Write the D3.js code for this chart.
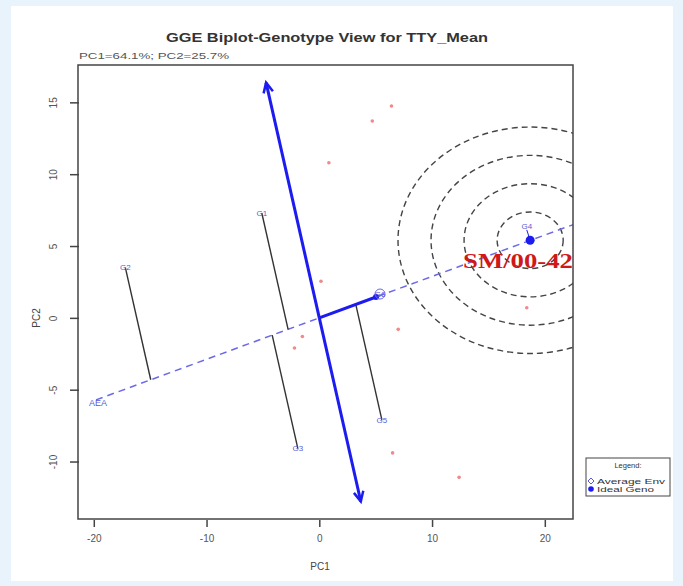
<html>
<head>
<meta charset="utf-8">
<script src="https://cdn.jsdelivr.net/npm/d3@7"></script>
<style>
  body { margin: 0; background: #e9f3fc; }
</style>
</head>
<body>
<div id="chart"></div>
<script>
// ---- data ----
const genoNames = ["G1", "G2", "G3", "G4", "G5", "G6"];
const genoPC1 = [-5.1, -17.2, -1.9, 18.4, 5.55, 5.4];
const genoPC2 = [7.3, 3.5, -9.1, 6.4, -7.1, 1.65];
const projected = ["G1", "G2", "G3", "G5"];          // genotypes with drop lines to AEA
const envPC1 = [6.4, 4.7, 0.85, 0.15, -1.5, -2.2, 7.0, 18.4, 6.5, 12.4];
const envPC2 = [14.75, 13.7, 10.8, 2.55, -1.3, -2.1, -0.8, 0.7, -9.4, -11.1];
const avgEnv = [5.03, 1.45];
const idealGeno = [18.7, 5.4];
const atcTop = [-4.72, 16.37];
const atcBottom = [3.68, -12.78];
const aeaFrom = -19.8, aeaTo = 24;                   // PC1 span of the AEA dashed line
const ringSteps = [1, 2, 3, 4];
const ringUnitPC1 = 2.93, ringUnitPC2 = 1.97;
const pc1Ticks = [-20, -10, 0, 10, 20];
const pc2Ticks = [-10, -5, 0, 5, 10, 15];
const pc1Domain = [-21.4, 22.5];
const pc2Domain = [-14.0, 17.6];

const W = 683, H = 586;
const SANS = "Arial, 'Liberation Sans', sans-serif";
const svg = d3.select("#chart").append("svg").attr("width", W).attr("height", H)
  .style("font-family", SANS);

svg.append("rect").attr("x", 11).attr("y", 6).attr("width", 662).attr("height", 575).attr("fill", "#fff");

const x = d3.scaleLinear().domain(pc1Domain).range([78, 573]);
const y = d3.scaleLinear().domain(pc2Domain).range([519, 65]);

svg.append("clipPath").attr("id", "plotclip")
  .append("rect").attr("x", 78).attr("y", 65).attr("width", 495).attr("height", 454);

// title + subtitle
svg.append("text").attr("x", 327).attr("y", 42).attr("text-anchor", "middle")
  .attr("font-size", 13).attr("font-weight", "bold").attr("fill", "#333")
  .attr("textLength", 322).attr("lengthAdjust", "spacingAndGlyphs")
  .text("GGE Biplot-Genotype View for TTY_Mean");
svg.append("text").attr("x", 79).attr("y", 59).attr("font-size", 9.5).attr("fill", "#555")
  .attr("textLength", 150).attr("lengthAdjust", "spacingAndGlyphs")
  .text("PC1=64.1%; PC2=25.7%");

// axes
const fmt = d => String(d);
const xAxis = svg.append("g").attr("transform", "translate(0,520)")
  .call(d3.axisBottom(x).tickValues(pc1Ticks).tickSize(7).tickPadding(8).tickFormat(fmt));
const yAxis = svg.append("g").attr("transform", "translate(79,0)")
  .call(d3.axisLeft(y).tickValues(pc2Ticks).tickSize(9).tickFormat(fmt));
[xAxis, yAxis].forEach(a => {
  a.attr("font-family", null);
  a.select(".domain").remove();
  a.selectAll("line").attr("stroke", "#444").attr("stroke-width", 1.5);
  a.selectAll("text").attr("fill", "#555").attr("font-size", 10);
});
yAxis.selectAll(".tick text")
  .attr("x", null).attr("y", 0)
  .attr("text-anchor", "middle")
  .attr("transform", "translate(-26,0) rotate(-90)").attr("dy", "0.35em");

svg.append("text").attr("x", 320).attr("y", 570).attr("text-anchor", "middle")
  .attr("font-size", 10).attr("fill", "#444").text("PC1");
svg.append("text").attr("transform", "translate(40,318) rotate(-90)").attr("text-anchor", "middle")
  .attr("font-size", 10).attr("fill", "#444").text("PC2");

const plot = svg.append("g").attr("clip-path", "url(#plotclip)");

// concentric rings around the ideal genotype
plot.selectAll("ellipse.ring").data(ringSteps).enter().append("ellipse")
  .attr("class", "ring")
  .attr("cx", x(idealGeno[0])).attr("cy", y(idealGeno[1]))
  .attr("rx", d => x(d * ringUnitPC1) - x(0))
  .attr("ry", d => y(0) - y(d * ringUnitPC2))
  .attr("fill", "none").attr("stroke", "#444").attr("stroke-width", 1.4)
  .attr("stroke-dasharray", "6,4");

// AEA dashed line
const slope = avgEnv[1] / avgEnv[0];
plot.append("line")
  .attr("x1", x(aeaFrom)).attr("y1", y(aeaFrom * slope))
  .attr("x2", x(aeaTo)).attr("y2", y(aeaTo * slope))
  .attr("stroke", "#6a6ae8").attr("stroke-width", 1.5).attr("stroke-dasharray", "7,5");

// drop lines from genotypes to AEA
const ux = avgEnv[0] / Math.hypot(avgEnv[0], avgEnv[1]);
const uy = avgEnv[1] / Math.hypot(avgEnv[0], avgEnv[1]);
const drops = projected.map(n => {
  const i = genoNames.indexOf(n);
  const t = genoPC1[i] * ux + genoPC2[i] * uy;
  return { gx: genoPC1[i], gy: genoPC2[i], fx: t * ux, fy: t * uy };
});
plot.selectAll("line.drop").data(drops).enter().append("line")
  .attr("class", "drop")
  .attr("x1", d => x(d.gx)).attr("y1", d => y(d.gy))
  .attr("x2", d => x(d.fx)).attr("y2", d => y(d.fy))
  .attr("stroke", "#333").attr("stroke-width", 1.4);

// ATC axis with arrows
function arrow(from, to) {
  const x1 = x(from[0]), y1 = y(from[1]), x2 = x(to[0]), y2 = y(to[1]);
  const a = Math.atan2(y2 - y1, x2 - x1), L = 11, s = 0.45;
  plot.append("line").attr("x1", x1).attr("y1", y1).attr("x2", x2).attr("y2", y2)
    .attr("stroke", "#1c1cf0").attr("stroke-width", 3);
  plot.append("path")
    .attr("d", `M${x2 - L * Math.cos(a - s)},${y2 - L * Math.sin(a - s)}L${x2},${y2}L${x2 - L * Math.cos(a + s)},${y2 - L * Math.sin(a + s)}`)
    .attr("fill", "none").attr("stroke", "#1c1cf0").attr("stroke-width", 2.5);
}
arrow([0, 0], atcTop);
arrow([0, 0], atcBottom);

// line from origin to average environment
plot.append("line").attr("x1", x(0)).attr("y1", y(0)).attr("x2", x(avgEnv[0])).attr("y2", y(avgEnv[1]))
  .attr("stroke", "#1c1cf0").attr("stroke-width", 3);
plot.append("circle").attr("cx", x(avgEnv[0])).attr("cy", y(avgEnv[1])).attr("r", 3).attr("fill", "#1c1cf0");
plot.append("circle").attr("cx", x(avgEnv[0]) + 4).attr("cy", y(avgEnv[1]) - 3).attr("r", 5)
  .attr("fill", "none").attr("stroke", "#6a6ae8").attr("stroke-width", 1);

// environments (red small markers)
const envs = envPC1.map((v, i) => [v, envPC2[i]]);
plot.selectAll("circle.env").data(envs).enter().append("circle")
  .attr("class", "env").attr("cx", d => x(d[0])).attr("cy", d => y(d[1])).attr("r", 1.8)
  .attr("fill", "#f08a8a");

// genotype labels
plot.selectAll("text.geno").data(genoNames).enter().append("text")
  .attr("class", "geno")
  .attr("x", (d, i) => x(genoPC1[i])).attr("y", (d, i) => y(genoPC2[i]))
  .attr("dy", "0.35em").attr("text-anchor", "middle")
  .attr("font-size", 8).attr("fill", "#5a5ad8").text(d => d);

// ideal genotype
plot.append("circle").attr("cx", x(idealGeno[0])).attr("cy", y(idealGeno[1])).attr("r", 4.5).attr("fill", "#1c1cf0");
plot.append("line").attr("x1", x(idealGeno[0])).attr("y1", y(idealGeno[1]))
  .attr("x2", x(genoPC1[3])).attr("y2", y(genoPC2[3]) + 4).attr("stroke", "#1c1cf0").attr("stroke-width", 1);

// AEA label
svg.append("text").attr("x", x(aeaFrom) + 2).attr("y", y(aeaFrom * slope) + 3).attr("dy", "0.35em")
  .attr("text-anchor", "middle").attr("font-size", 9).attr("fill", "#5a5ad8").text("AEA");

// plot frame
svg.append("rect").attr("x", 78).attr("y", 65).attr("width", 495).attr("height", 454)
  .attr("fill", "none").attr("stroke", "#444").attr("stroke-width", 1.5);

// big red genotype name
svg.append("text").attr("x", 463).attr("y", 268)
  .style("font-family", "'Liberation Serif', 'Times New Roman', serif").attr("font-weight", "bold")
  .attr("font-size", 22).attr("fill", "#d01818")
  .attr("textLength", 110).attr("lengthAdjust", "spacingAndGlyphs")
  .text("SM/00-42");

// legend
const lg = svg.append("g").attr("transform", "translate(586,458)");
lg.append("rect").attr("width", 84).attr("height", 38).attr("fill", "#fff").attr("stroke", "#444").attr("stroke-width", 1);
lg.append("text").attr("x", 42).attr("y", 10).attr("text-anchor", "middle").attr("font-size", 7.5).attr("fill", "#333").text("Legend:");
lg.append("path").attr("d", "M5,20L8,23L5,26L2,23Z").attr("fill", "none").attr("stroke", "#5a5ad8").attr("stroke-width", 1);
lg.append("text").attr("x", 11).attr("y", 25.5).attr("font-size", 8).attr("fill", "#333")
  .attr("textLength", 68).attr("lengthAdjust", "spacingAndGlyphs").text("Average Env");
lg.append("circle").attr("cx", 5).attr("cy", 31).attr("r", 2.8).attr("fill", "#1c1cf0");
lg.append("text").attr("x", 11).attr("y", 33.5).attr("font-size", 8).attr("fill", "#333")
  .attr("textLength", 57).attr("lengthAdjust", "spacingAndGlyphs").text("Ideal Geno");
</script>
</body>
</html>
